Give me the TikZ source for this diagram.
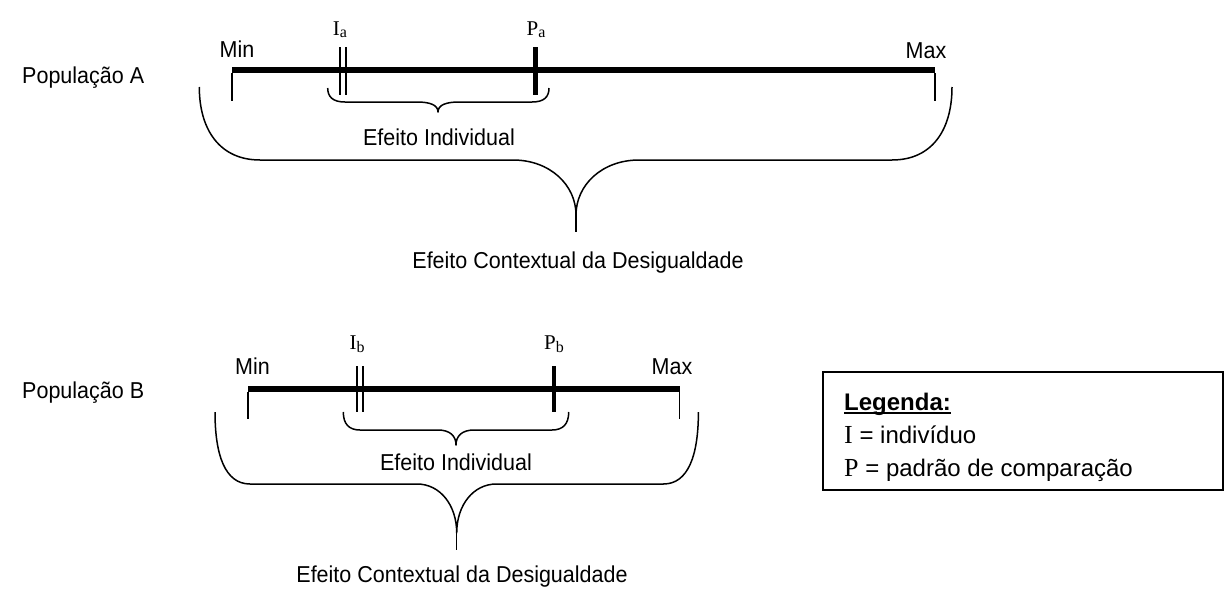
\documentclass[tikz,border=0pt]{standalone}
\usepackage{fontspec}
\setmainfont{Liberation Sans}[FakeStretch=0.935]
\newfontfamily\legfont{Liberation Sans}
\newfontfamily\tnr{Liberation Serif}
\newcommand{\ptsub}[2]{#1\raisebox{-2.5pt}{\fontsize{16}{16}\selectfont #2}}
\begin{document}
\begin{tikzpicture}[x=1pt,y=-1pt,
  txt/.style={font=\fontsize{23}{27}\selectfont, inner sep=0pt, anchor=base},
  ptlabel/.style={font=\tnr\fontsize{21}{24}\selectfont, inner sep=0pt, anchor=base},
  legtxt/.style={font=\legfont\fontsize{24}{28}\selectfont, inner sep=0pt, anchor=base west},
  scalebar/.style={line width=6pt},
  endtick/.style={line width=1.6pt},
  bracepath/.style={line width=1.5pt, line join=round},
  ptick/.style={line width=4.8pt},
  itick/.style={line width=1.8pt}]
\useasboundingbox (0,0) rectangle (1228,589);

% ---------------- Population A ----------------
\node[txt, anchor=base west] (popA) at (22,83) {População A};
\coordinate (aL) at (232,70);
\coordinate (aR) at (935,70);
\draw[scalebar] (aL) -- (aR);
\draw[endtick] ([yshift=-3pt]aL) -- ++(0,28);
\draw[endtick] ([yshift=-3pt]aR) -- ++(0,28);
\node[txt] (minA) at (237,57.5) {Min};
\node[txt] (maxA) at (926,58) {Max};

% individual and comparison standard
\coordinate (iA) at (343,47);
\draw[itick] ([xshift=-2.7pt]iA) -- ++(0,48);
\draw[itick] ([xshift=2.7pt]iA) -- ++(0,48);
\coordinate (pA) at (535.5,47);
\draw[ptick] (pA) -- ++(0,48);
\node[ptlabel] (labIA) at (340,35) {\ptsub{I}{a}};
\node[ptlabel] (labPA) at (536,35) {\ptsub{P}{a}};

% individual effect brace
\coordinate (sbA) at (438,112);
\draw[bracepath] (327.7,88) .. controls (327.7,97) and (333,102) .. (345,102)
  -- (417,102) .. controls (430,102) and (438,105) .. (sbA)
  .. controls (438,105) and (446,102) .. (459,102)
  -- (532,102) .. controls (544,102) and (549,97) .. (549,88);
\node[txt] (effIA) at (439,145) {Efeito Individual};

% contextual effect brace
\coordinate (bbA) at (576,232);
\draw[bracepath] (199.3,87) .. controls (199.3,130) and (220,160) .. (260,160)
  -- (513,160) .. controls (550,160) and (576,185) .. (576,215)
  .. controls (576,185) and (602,160) .. (639,160)
  -- (892,160) .. controls (932,160) and (952,130) .. (952,87);
\draw[bracepath] (576,215) -- (bbA);
\node[txt] (effCA) at (578,268) {Efeito Contextual da Desigualdade};

% ---------------- Population B ----------------
\node[txt, anchor=base west] (popB) at (22,398) {População B};
\coordinate (bL) at (248,389);
\coordinate (bR) at (679.5,389);
\draw[scalebar] (bL) -- (bR);
\draw[endtick] ([yshift=-3pt]bL) -- ++(0,26.7);
\draw[endtick] ([yshift=-3pt]bR) -- ++(0,26.7);
\node[txt] (minB) at (252.5,374.5) {Min};
\node[txt] (maxB) at (672,374.5) {Max};

\coordinate (iB) at (360,366);
\draw[itick] ([xshift=-2.7pt]iB) -- ++(0,46);
\draw[itick] ([xshift=2.7pt]iB) -- ++(0,46);
\coordinate (pB) at (554,366);
\draw[ptick] (pB) -- ++(0,46);
\node[ptlabel] (labIB) at (357,349.5) {\ptsub{I}{b}};
\node[ptlabel] (labPB) at (554,349.5) {\ptsub{P}{b}};

\coordinate (sbB) at (456,445);
\draw[bracepath] (343.3,412) .. controls (343.3,424) and (349,430) .. (360,430)
  -- (438,430) .. controls (450,430) and (456,436) .. (sbB)
  .. controls (456,436) and (462,430) .. (474,430)
  -- (552,430) .. controls (563,430) and (568.7,424) .. (568.7,412);
\node[txt] (effIB) at (456,470) {Efeito Individual};

\coordinate (bbB) at (456.7,550);
\draw[bracepath] (215,412) .. controls (215,455) and (225,484) .. (250,484)
  -- (417,484) .. controls (440,484) and (456.7,505) .. (456.7,533)
  .. controls (456.7,505) and (473.4,484) .. (496.4,484)
  -- (663.4,484) .. controls (688.4,484) and (698.4,455) .. (698.4,412);
\draw[bracepath] (456.7,533) -- (bbB);
\node[txt] (effCB) at (462,582) {Efeito Contextual da Desigualdade};

% ---------------- Legend ----------------
\node[draw, line width=1.5pt, minimum width=400pt, minimum height=118pt,
      inner sep=0pt] (legbox) at (1023,431) {};
\node[legtxt, font=\legfont\bfseries\fontsize{24}{28}\selectfont] (leghead) at (844,410) {Legenda:};
\draw[line width=2pt] ([yshift=-2.5pt]leghead.base west) -- ([yshift=-2.5pt]leghead.base east);
\node[legtxt] (legI) at (844,443) {{\tnr\fontsize{26}{28}\selectfont I} = indivíduo};
\node[legtxt] (legP) at (844,476) {{\tnr\fontsize{26}{28}\selectfont P} = padrão de comparação};
\end{tikzpicture}
\end{document}
